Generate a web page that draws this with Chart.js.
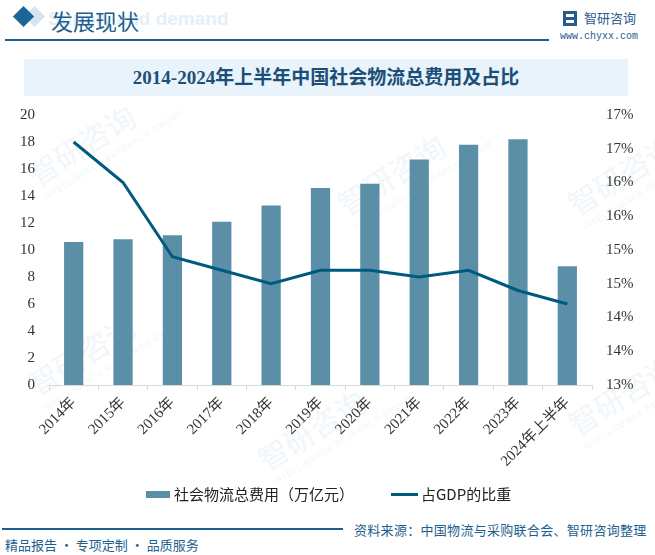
<!DOCTYPE html>
<html>
<head>
<meta charset="utf-8">
<script src="https://cdn.jsdelivr.net/npm/chart.js@4.4.0/dist/chart.umd.min.js"></script>
<style>
  body { margin: 0; background: #fff; }
  #page { position: relative; width: 655px; height: 555px; overflow: hidden; background: #fff;
    font-family: 'Noto Sans CJK SC', sans-serif; }
  .abs { position: absolute; white-space: nowrap; }
  .wm { position: absolute; color: #f1f6fa; font-size: 30px; transform: rotate(-32deg); white-space: nowrap; }
  .wm small { display: block; font-size: 8px; letter-spacing: 1px; font-family: 'Liberation Sans'; }
</style>
</head>
<body>
<div id="page">
  <!-- watermarks -->
  <div class="wm" style="left:20px;top:110px;">智研咨询<small>INTELLIGENCE RESEARCH GROUP</small></div>
  <div class="wm" style="left:250px;top:395px;">智研咨询<small>INTELLIGENCE RESEARCH GROUP</small></div>
  <div class="wm" style="left:330px;top:140px;">智研咨询<small>INTELLIGENCE RESEARCH GROUP</small></div>
  <div class="wm" style="left:20px;top:320px;">智研咨询<small>INTELLIGENCE RESEARCH GROUP</small></div>
  <div class="wm" style="left:560px;top:140px;">智研咨询<small>INTELLIGENCE RESEARCH GROUP</small></div>
  <div class="wm" style="left:560px;top:360px;">智研咨询<small>INTELLIGENCE RESEARCH GROUP</small></div>

  <!-- header -->
  <div class="abs" style="left:48px;top:8px;font:bold 19px 'Liberation Sans';color:#e6eff7;">Supply and demand</div>
  <div class="abs" style="left:27px;top:9px;width:15px;height:15px;background:#d5e5f1;transform:rotate(45deg);"></div>
  <div class="abs" style="left:16px;top:9px;width:15px;height:15px;background:#1d6596;transform:rotate(45deg);"></div>
  <div class="abs" style="left:51px;top:4px;font-size:22px;color:#1d5f8f;">发展现状</div>
  <div class="abs" style="left:5px;top:39px;width:544px;height:2px;background:#1d5f8f;"></div>
  <div class="abs" style="left:563px;top:11px;width:14px;height:15px;background:#2a5b8f;"></div>
  <div class="abs" style="left:566px;top:14px;width:8px;height:3px;background:#fff;"></div>
  <div class="abs" style="left:566px;top:20px;width:8px;height:3px;background:#fff;"></div>
  <div class="abs" style="left:584px;top:8px;font-size:13px;color:#2a5b8f;">智研咨询</div>
  <div class="abs" style="left:560px;top:31px;font:10px 'Liberation Mono';color:#2a5b8f;">www.chyxx.com</div>

  <!-- title -->
  <div class="abs" style="left:24px;top:59px;width:604px;height:37px;background:#e8f3fb;"></div>
  <div class="abs" style="left:24px;top:59px;width:604px;height:37px;line-height:37px;text-align:center;
    font-family:'Liberation Serif','Noto Sans CJK SC';font-weight:bold;font-size:19px;color:#1b4f78;">2014-2024年上半年中国社会物流总费用及占比</div>

  <!-- chart -->
  <div class="abs" style="left:0;top:95px;width:655px;height:400px;">
    <canvas id="chart"></canvas>
  </div>

  <!-- legend -->
  <div class="abs" style="left:146px;top:491px;width:24px;height:7px;background:#5b8fa8;"></div>
  <div class="abs" style="left:174px;top:483px;font-size:15px;color:#222;">社会物流总费用（万亿元）</div>
  <div class="abs" style="left:391px;top:493px;width:27px;height:3px;background:#005a80;"></div>
  <div class="abs" style="left:421px;top:483px;font-size:15px;color:#222;">占GDP的比重</div>

  <!-- footer -->
  <div class="abs" style="left:2px;top:528px;width:341px;height:2px;background:#1d5f8f;"></div>
  <div class="abs" style="left:354px;top:520px;font-size:13px;letter-spacing:0.3px;color:#1d5f8f;">资料来源：中国物流与采购联合会、智研咨询整理</div>
  <div class="abs" style="left:5px;top:535px;font-size:13px;color:#1d5f8f;">精品报告 · 专项定制 · 品质服务</div>
</div>

<script>
const years = ['2014年', '2015年', '2016年', '2017年', '2018年', '2019年', '2020年', '2021年', '2022年', '2023年', '2024年上半年'];
const costValues = [10.6, 10.8, 11.1, 12.1, 13.3, 14.6, 14.9, 16.7, 17.8, 18.2, 8.8];
const shareValues = [16.6, 16.0, 14.9, 14.7, 14.5, 14.7, 14.7, 14.6, 14.7, 14.4, 14.2];

Chart.defaults.font.family = "'Liberation Serif', 'Noto Sans CJK SC', serif";
Chart.defaults.font.size = 15;
Chart.defaults.color = '#333';

const ctx = document.getElementById('chart');

new Chart(ctx, {
  data: {
    labels: years,
    datasets: [
      {
        type: 'line',
        label: '占GDP的比重',
        data: shareValues,
        yAxisID: 'y2',
        borderColor: '#005a80',
        borderWidth: 3,
        pointRadius: 0,
        tension: 0,
        order: 0
      },
      {
        type: 'bar',
        label: '社会物流总费用（万亿元）',
        data: costValues,
        yAxisID: 'y',
        backgroundColor: '#5b8fa8',
        categoryPercentage: 1,
        barPercentage: 0.39,
        order: 1
      }
    ]
  },
  options: {
    responsive: true,
    maintainAspectRatio: false,
    animation: false,
    layout: { padding: { top: 20, left: 0, right: 0, bottom: 0 } },
    plugins: {
      legend: { display: false },
      tooltip: { enabled: false }
    },
    scales: {
      x: {
        offset: true,
        grid: { offset: true, drawOnChartArea: false, tickLength: 5, color: '#d9d9d9' },
        border: { color: '#d9d9d9' },
        ticks: { autoSkip: false, minRotation: 45, maxRotation: 45, padding: 4, font: { size: 15 } },
        afterFit: (axis) => { axis.height = 110; }
      },
      y: {
        position: 'left',
        min: 0,
        max: 20,
        ticks: { stepSize: 2, padding: 6 },
        grid: { display: false },
        border: { display: false },
        afterFit: (axis) => { axis.width = 49; }
      },
      y2: {
        position: 'right',
        min: 13,
        max: 17,
        ticks: {
          stepSize: 0.5,
          padding: 6,
          callback: (v) => Math.round(v) + '%'
        },
        grid: { display: false },
        border: { display: false },
        afterFit: (axis) => { axis.width = 63; }
      }
    }
  }
});
</script>
</body>
</html>
